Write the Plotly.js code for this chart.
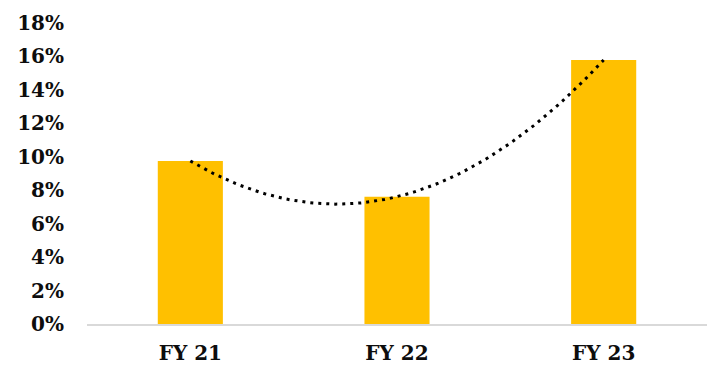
<!DOCTYPE html>
<html>
<head>
<meta charset="utf-8">
<script src="https://cdn.plot.ly/plotly-3.0.1.min.js"></script>
<style>html,body{margin:0;padding:0;background:#fff;}#chart{width:707px;height:367px;}</style>
</head>
<body>
<div id="chart"></div>
<script>
const categories = ["FY 21", "FY 22", "FY 23"];
const values = [9.75, 7.61, 15.79];
const yTickVals = [0, 2, 4, 6, 8, 10, 12, 14, 16, 18];
const yTickText = ["0%", "2%", "4%", "6%", "8%", "10%", "12%", "14%", "16%", "18%"];

// Polynomial (order 2) trendline through the bar values, as Excel draws it
const xs = categories.map((_, i) => i);
const a = (values[2] - 2 * values[1] + values[0]) / 2;
const b = values[1] - values[0] - a;
const c = values[0];
const trendX = [], trendY = [];
for (let i = 0; i <= 100; i++) {
  const x = 2 * i / 100;
  trendX.push(x);
  trendY.push(a * x * x + b * x + c);
}

const font = {family: "DejaVu Serif", size: 20, color: "#0d0d0d", weight: "bold"};

Plotly.newPlot("chart", [
  {type: "bar", x: xs, y: values, marker: {color: "#FFC000"}, hoverinfo: "none", width: 0.315},
  {type: "scatter", mode: "lines", x: trendX, y: trendY,
   line: {color: "#000000", width: 3, dash: "3px,5px"}, hoverinfo: "none"}
], {
  width: 707, height: 367,
  margin: {l: 87, r: 0, t: 23, b: 43},
  showlegend: false,
  paper_bgcolor: "#fff", plot_bgcolor: "#fff",
  font: font,
  xaxis: {
    range: [-0.5, 2.5], tickvals: xs, ticktext: categories,
    showline: true, linecolor: "#d9d9d9", linewidth: 2,
    showgrid: false, zeroline: false, ticks: "", ticklabelstandoff: 10,
    tickfont: font
  },
  yaxis: {
    range: [0, 18], tickvals: yTickVals, ticktext: yTickText,
    showgrid: false, zeroline: false, showline: false, ticks: "",
    ticklabelstandoff: 22, tickfont: font
  }
}, {staticPlot: true});
</script>
</body>
</html>
